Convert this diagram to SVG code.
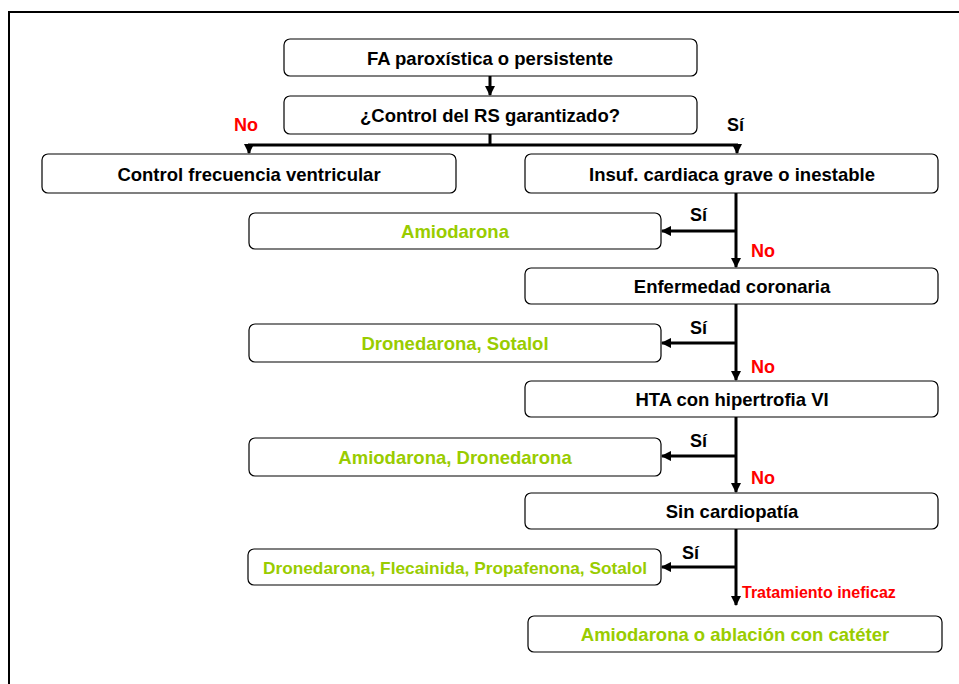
<svg xmlns="http://www.w3.org/2000/svg" width="959" height="684" viewBox="0 0 959 684">
<style>
.box{fill:#fff;stroke:#000;stroke-width:1.2}
.t{font-family:"Liberation Sans",Arial,sans-serif;font-weight:bold;font-size:18.5px;text-anchor:middle}
.k{fill:#000}
.g{fill:#99cc00}
.r{fill:#ff0000}
.lbl{font-family:"Liberation Sans",Arial,sans-serif;font-weight:bold;font-size:18px}
.c{stroke:#000;stroke-width:3;fill:none}
</style>
<defs>
<marker id="ah" viewBox="0 0 10 10" refX="9" refY="5" markerWidth="3.5" markerHeight="3.5" orient="auto" markerUnits="strokeWidth">
<path d="M0,0 L10,5 L0,10 z" fill="#000"/>
</marker>
</defs>
<rect x="9" y="12" width="1000" height="1000" fill="#fff" stroke="#000" stroke-width="2"/>
<g id="connectors">
<line class="c" x1="490" y1="76" x2="490" y2="95" marker-end="url(#ah)"/>
<line class="c" x1="490" y1="134" x2="490" y2="145"/>
<line class="c" x1="248" y1="145" x2="738" y2="145"/>
<line class="c" x1="249" y1="144" x2="249" y2="153" marker-end="url(#ah)"/>
<line class="c" x1="737" y1="144" x2="737" y2="153" marker-end="url(#ah)"/>
<line class="c" x1="736" y1="193" x2="736" y2="267" marker-end="url(#ah)"/>
<line class="c" x1="736" y1="231" x2="662" y2="231" marker-end="url(#ah)"/>
<line class="c" x1="736" y1="304" x2="736" y2="380" marker-end="url(#ah)"/>
<line class="c" x1="736" y1="343" x2="662" y2="343" marker-end="url(#ah)"/>
<line class="c" x1="736" y1="417" x2="736" y2="492" marker-end="url(#ah)"/>
<line class="c" x1="736" y1="456" x2="662" y2="456" marker-end="url(#ah)"/>
<line class="c" x1="736" y1="529" x2="736" y2="605" marker-end="url(#ah)"/>
<line class="c" x1="736" y1="567" x2="662" y2="567" marker-end="url(#ah)"/>
<text class="lbl r" x="234" y="131">No</text>
<text class="lbl k" x="727" y="131">Sí</text>
<text class="lbl k" x="690" y="221">Sí</text>
<text class="lbl r" x="751" y="257">No</text>
<text class="lbl k" x="690" y="334">Sí</text>
<text class="lbl r" x="751" y="373">No</text>
<text class="lbl k" x="690" y="447">Sí</text>
<text class="lbl r" x="751" y="484">No</text>
<text class="lbl k" x="682" y="559">Sí</text>
<text class="lbl r" x="742" y="598" style="font-size:16px">Tratamiento ineficaz</text>
</g>
<g id="n1"><rect class="box" x="284" y="39" width="413" height="37" rx="6"/><text class="t k" x="490" y="65">FA paroxística o persistente</text></g>
<g id="n2"><rect class="box" x="284" y="96" width="413" height="38" rx="6"/><text class="t k" x="490" y="122">¿Control del RS garantizado?</text></g>
<g id="n3"><rect class="box" x="42" y="154" width="414" height="39" rx="6"/><text class="t k" x="249" y="181">Control frecuencia ventricular</text></g>
<g id="n4"><rect class="box" x="525" y="154" width="413" height="39" rx="6"/><text class="t k" x="732" y="181">Insuf. cardiaca grave o inestable</text></g>
<g id="n5"><rect class="box" x="249" y="213" width="412" height="36" rx="6"/><text class="t g" x="455" y="238">Amiodarona</text></g>
<g id="n6"><rect class="box" x="525" y="268" width="413" height="36" rx="6"/><text class="t k" x="732" y="293">Enfermedad coronaria</text></g>
<g id="n7"><rect class="box" x="249" y="324" width="412" height="38" rx="6"/><text class="t g" x="455" y="350">Dronedarona, Sotalol</text></g>
<g id="n8"><rect class="box" x="525" y="381" width="413" height="36" rx="6"/><text class="t k" x="732" y="406">HTA con hipertrofia VI</text></g>
<g id="n9"><rect class="box" x="249" y="438" width="412" height="38" rx="6"/><text class="t g" x="455" y="464">Amiodarona, Dronedarona</text></g>
<g id="n10"><rect class="box" x="525" y="493" width="413" height="36" rx="6"/><text class="t k" x="732" y="518">Sin cardiopatía</text></g>
<g id="n11"><rect class="box" x="248" y="549" width="413" height="36" rx="6"/><text class="t g" x="455" y="574" style="font-size:17.3px">Dronedarona, Flecainida, Propafenona, Sotalol</text></g>
<g id="n12"><rect class="box" x="528" y="616" width="414" height="36" rx="6"/><text class="t g" x="735" y="641">Amiodarona o ablación con catéter</text></g>
</svg>
